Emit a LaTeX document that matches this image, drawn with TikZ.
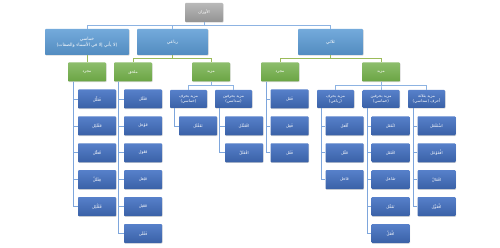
\documentclass[tikz,border=0pt]{standalone}
\usepackage{fontspec}
\newfontfamily\arabicfont[Script=Arabic]{DejaVu Sans}
\TeXXeTstate=1
\usetikzlibrary{shadows}
\newcommand{\ar}[1]{\beginR#1\endR}
\definecolor{lvlblue}{HTML}{5B9BD5}
\definecolor{leafblue}{HTML}{4472C4}
\definecolor{grn}{HTML}{70AD47}
\definecolor{bline}{HTML}{8DB3E2}
\definecolor{gline}{HTML}{9BBB59}
\tikzset{
  box/.style={rounded corners=0.8pt, text=white, align=center, inner sep=0.5pt,
    font=\arabicfont\fontsize{4}{5}\selectfont,
    drop shadow={opacity=0.3, shadow xshift=0.5pt, shadow yshift=-0.7pt}},
  rootbox/.style={box, top color=gray!55, bottom color=gray!85, minimum width=38pt, minimum height=19pt},
  lvlbox/.style={box, top color=lvlblue!85, bottom color=lvlblue!90!black, minimum height=26pt,
    font=\arabicfont\fontsize{4.5}{6}\selectfont},
  grnbox/.style={box, top color=grn!80, bottom color=grn!95!black, minimum width=38pt, minimum height=19pt},
  subbox/.style={box, top color=leafblue!90, bottom color=leafblue!85!black, minimum width=37pt, minimum height=18pt},
  leaf/.style={box, top color=leafblue!90, bottom color=leafblue!85!black, minimum width=38pt, minimum height=19pt},
  bcon/.style={draw=bline, line width=0.6pt},
  gcon/.style={draw=gline, line width=0.6pt},
  lcon/.style={draw=bline!80!leafblue, line width=0.6pt}
}
\begin{document}
\begin{tikzpicture}[x=1pt, y=-1pt]
\useasboundingbox[fill=white] (0,0) rectangle (500,248);
% الجذر والمستوى الأول
\node[rootbox] (root) at (204,12.5) {\ar{الأوزان}};
\node[lvlbox, minimum width=84pt] (kh) at (87,42) {\ar{خماسي}\\\ar{(لا يأتي إلا في الأسماء والصفات)}};
\node[lvlbox, minimum width=71pt] (rb) at (172.5,42) {\ar{رباعي}};
\node[lvlbox, minimum width=65pt] (th) at (330.5,42) {\ar{ثلاثي}};
\foreach \n in {kh,rb,th}
  \draw[bcon] (root.south) -- ++(0,3) -| (\n.north);
% المجرد والمزيد
\node[grnbox] (g1) at (87,72) {\ar{مجرد}};
\node[grnbox] (g2) at (133,72) {\ar{ملحق}};
\node[grnbox] (g3) at (211,72) {\ar{مزيد}};
\node[grnbox] (g4) at (280,72) {\ar{مجرد}};
\node[grnbox] (g5) at (381,72) {\ar{مزيد}};
\draw[gcon] (kh.south) -- (g1.north);
\draw[gcon] (rb.south) -- ++(0,3) -| (g2.north);
\draw[gcon] (rb.south) -- ++(0,3) -| (g3.north);
\draw[gcon] (th.south) -- ++(0,3.5) -| (g4.north);
\draw[gcon] (th.south) -- ++(0,3.5) -| (g5.north);
% مزيد بحرف / بحرفين / بثلاثة
\node[subbox] (s1) at (188.5,99) {\ar{مزيد بحرف}\\\ar{(خماسي)}};
\node[subbox] (s2) at (233.5,99) {\ar{مزيد بحرفين}\\\ar{(سداسي)}};
\node[subbox] (s3) at (335.5,99) {\ar{مزيد بحرف}\\\ar{(رباعي)}};
\node[subbox] (s4) at (381,99) {\ar{مزيد بحرفين}\\\ar{(خماسي)}};
\node[subbox] (s5) at (426.5,99) {\ar{مزيد بثلاثة}\\\ar{أحرف (سداسي)}};
\foreach \n in {s1,s2}
  \draw[bcon] (g3.south) -- ++(0,3.5) -| (\n.north);
\foreach \n in {s3,s4,s5}
  \draw[bcon] (g5.south) -- ++(0,3.5) -| (\n.north);
% الأوزان
\foreach \t [count=\i] in {فَعَلَّل,فَعْلَلِل,فُعَلِّل,فِعْلَلّ,فُعْلُلِل}{
  \node[leaf] (a\i) at (97,99+26.9*\i-26.9) {\ar{\t}};
  \draw[lcon] ([xshift=5pt]g1.south west) |- (a\i.west);
}
\foreach \t [count=\i] in {فَعْلَل,فَوْعَل,فَعْوَل,فَيْعَل,فَعْيَل,فَعْلَى}{
  \node[leaf] (b\i) at (143,99+26.9*\i-26.9) {\ar{\t}};
  \draw[lcon] ([xshift=4pt]g2.south west) |- (b\i.west);
}
\foreach \t [count=\i] in {تَفَعْلَل}{
  \node[leaf] (c\i) at (198,99+26.9*\i) {\ar{\t}};
  \draw[lcon] ([xshift=4pt]s1.south west) |- (c\i.west);
}
\foreach \t [count=\i] in {افْعَنْلَل,افْعَلَلّ}{
  \node[leaf] (d\i) at (244,99+26.9*\i) {\ar{\t}};
  \draw[lcon] ([xshift=4pt]s2.south west) |- (d\i.west);
}
\foreach \t [count=\i] in {فَعَل,فَعِل,فَعُل}{
  \node[leaf] (e\i) at (289.5,99+26.9*\i-26.9) {\ar{\t}};
  \draw[lcon] ([xshift=5pt]g4.south west) |- (e\i.west);
}
\foreach \t [count=\i] in {أَفْعَل,فَعَّل,فَاعَل}{
  \node[leaf] (f\i) at (344.5,99+26.9*\i) {\ar{\t}};
  \draw[lcon] ([xshift=4pt]s3.south west) |- (f\i.west);
}
\foreach \t [count=\i] in {انْفَعَل,افْتَعَل,تَفَاعَل,تَفَعَّل,افْعَلّ}{
  \node[leaf] (h\i) at (390.5,99+26.9*\i) {\ar{\t}};
  \draw[lcon] ([xshift=5pt]s4.south west) |- (h\i.west);
}
\foreach \t [count=\i] in {اسْتَفْعَل,افْعَوْعَل,افْعَالّ,افْعَوَّل}{
  \node[leaf] (k\i) at (436.5,99+26.9*\i) {\ar{\t}};
  \draw[lcon] ([xshift=5pt]s5.south west) |- (k\i.west);
}
\end{tikzpicture}
\end{document}
